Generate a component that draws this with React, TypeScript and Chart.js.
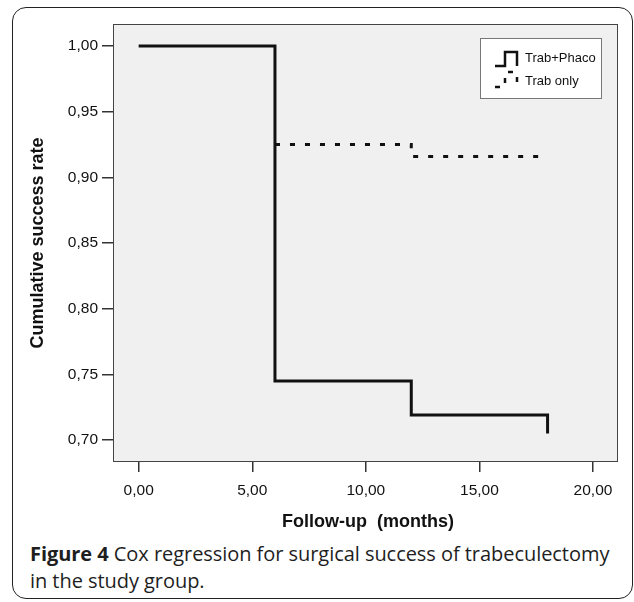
import React, { useEffect, useRef } from "react";
import { Chart, registerables } from "chart.js";

Chart.register(...registerables);

// ---- data ----
const xTickValues = [0, 5, 10, 15, 20];
const yTickValues = [0.7, 0.75, 0.8, 0.85, 0.9, 0.95, 1.0];
const phacoMonths = [0, 6, 12, 18];
const phacoRate = [1.0, 0.745, 0.719, 0.705];
const trabMonths = [0, 6, 12, 18];
const trabRate = [1.0, 0.925, 0.916, 0.916];
const seriesLabels = ["Trab+Phaco", "Trab only"];
const xTitle = "Follow-up  (months)";
const yTitle = "Cumulative success rate";
const captionBold = "Figure 4";
const captionLine1 = " Cox regression for surgical success of trabeculectomy";
const captionLine2 = "in the study group.";

const fmt = (v: number) => Number(v).toFixed(2).replace(".", ",");
const AXIS_FONT = '"Liberation Sans", Arial, sans-serif';

const decorPlugin = {
  id: "decor",
  beforeDraw(chart: any) {
    const { ctx, chartArea: a } = chart;
    ctx.save();
    ctx.fillStyle = "#f0f0f0";
    ctx.fillRect(a.left, a.top, a.right - a.left, a.bottom - a.top);
    ctx.restore();
  },
  afterDraw(chart: any) {
    const { ctx, chartArea: a } = chart;
    ctx.save();
    // frame
    ctx.strokeStyle = "#444";
    ctx.lineWidth = 1;
    ctx.strokeRect(a.left + 0.5, a.top + 0.5, a.right - a.left - 1, a.bottom - a.top - 1);

    // axis titles
    ctx.fillStyle = "#111";
    ctx.font = `bold 18px ${AXIS_FONT}`;
    ctx.textAlign = "center";
    ctx.textBaseline = "middle";
    ctx.fillText(xTitle, 368, 522);
    ctx.save();
    ctx.translate(38, (a.top + a.bottom) / 2);
    ctx.rotate(-Math.PI / 2);
    ctx.fillText(yTitle, 0, 0);
    ctx.restore();

    // legend
    const lx = 480.5, ly = 38.5, lw = 121, lh = 60;
    ctx.fillStyle = "#ffffff";
    ctx.fillRect(lx, ly, lw, lh);
    ctx.strokeStyle = "#777";
    ctx.lineWidth = 1;
    ctx.strokeRect(lx, ly, lw, lh);

    ctx.strokeStyle = "#111";
    ctx.lineWidth = 2.5;
    ctx.beginPath();
    ctx.moveTo(495, 66);
    ctx.lineTo(505, 66);
    ctx.lineTo(505, 52);
    ctx.lineTo(517, 52);
    ctx.lineTo(517, 66);
    ctx.stroke();

    ctx.setLineDash([5, 9]);
    ctx.beginPath();
    ctx.moveTo(495, 87);
    ctx.lineTo(505, 87);
    ctx.lineTo(505, 72);
    ctx.lineTo(517, 72);
    ctx.lineTo(517, 87);
    ctx.stroke();
    ctx.setLineDash([]);

    ctx.fillStyle = "#111";
    ctx.font = `13px ${AXIS_FONT}`;
    ctx.textAlign = "left";
    ctx.textBaseline = "middle";
    ctx.fillText(seriesLabels[0], 525, 58);
    ctx.fillText(seriesLabels[1], 525, 81);
    ctx.restore();
  },
};

export default function App() {
  const ref = useRef<HTMLCanvasElement | null>(null);

  useEffect(() => {
    if (!ref.current) return;
    const chart = new Chart(ref.current, {
      type: "line",
      data: {
        datasets: [
          {
            label: seriesLabels[0],
            data: phacoMonths.map((m, i) => ({ x: m, y: phacoRate[i] })),
            stepped: "before",
            borderColor: "#111",
            borderWidth: 3,
            pointRadius: 0,
            fill: false,
          },
          {
            label: seriesLabels[1],
            data: trabMonths.map((m, i) => ({ x: m, y: trabRate[i] })),
            stepped: "before",
            borderColor: "#111",
            borderWidth: 3,
            borderDash: [5, 10],
            pointRadius: 0,
            fill: false,
            segment: {
              // first segment coincides with the solid curve, hidden underneath it
              borderColor: (c: any) => (c.p0DataIndex === 0 ? "rgba(0,0,0,0)" : "#111"),
            },
          },
        ],
      },
      options: {
        animation: false,
        responsive: false,
        layout: { padding: { top: 24, right: 16, left: 0, bottom: 0 } },
        plugins: { legend: { display: false }, tooltip: { enabled: false } },
        scales: {
          x: {
            type: "linear",
            min: -1.13,
            max: 21.1,
            afterBuildTicks: (s: any) => {
              s.ticks = xTickValues.map((v) => ({ value: v }));
            },
            afterFit: (s: any) => {
              s.height = 78;
            },
            ticks: {
              callback: (v: any) => fmt(v),
              font: { family: AXIS_FONT, size: 15.5 },
              color: "#111",
              padding: 9,
              maxRotation: 0,
              autoSkip: false,
            },
            grid: { drawOnChartArea: false, drawTicks: true, tickLength: 10, color: "#333", lineWidth: 1.5 },
            border: { display: false },
          },
          y: {
            type: "linear",
            min: 0.6833,
            max: 1.0168,
            afterBuildTicks: (s: any) => {
              s.ticks = yTickValues.map((v) => ({ value: v }));
            },
            afterFit: (s: any) => {
              s.width = 113;
            },
            ticks: {
              callback: (v: any) => fmt(v),
              font: { family: AXIS_FONT, size: 15.5 },
              color: "#111",
              padding: 4,
              autoSkip: false,
            },
            grid: { drawOnChartArea: false, drawTicks: true, tickLength: 11, color: "#333", lineWidth: 1.5 },
            border: { display: false },
          },
        },
      },
      plugins: [decorPlugin],
    } as any);
    return () => chart.destroy();
  }, []);

  return (
    <div style={{ position: "absolute", left: 0, top: 0, width: 634, height: 602, background: "#fff", overflow: "hidden" }}>
      <div
        style={{
          position: "absolute",
          left: 12,
          top: 7,
          width: 621,
          height: 592,
          border: "1.5px solid #222",
          borderRadius: 14,
          boxSizing: "border-box",
        }}
      />
      <canvas ref={ref} width={634} height={540} style={{ position: "absolute", left: 0, top: 0, width: 634, height: 540 }} />
      <div
        style={{
          position: "absolute",
          left: 30,
          top: 540,
          fontFamily: '"Open Sans", "Noto Sans", sans-serif',
          fontSize: 20,
          lineHeight: "27px",
          color: "#1e1e1e",
          whiteSpace: "nowrap",
          letterSpacing: "-0.05px",
        }}
      >
        <div>
          <b>{captionBold}</b>
          {captionLine1}
        </div>
        <div>{captionLine2}</div>
      </div>
    </div>
  );
}
